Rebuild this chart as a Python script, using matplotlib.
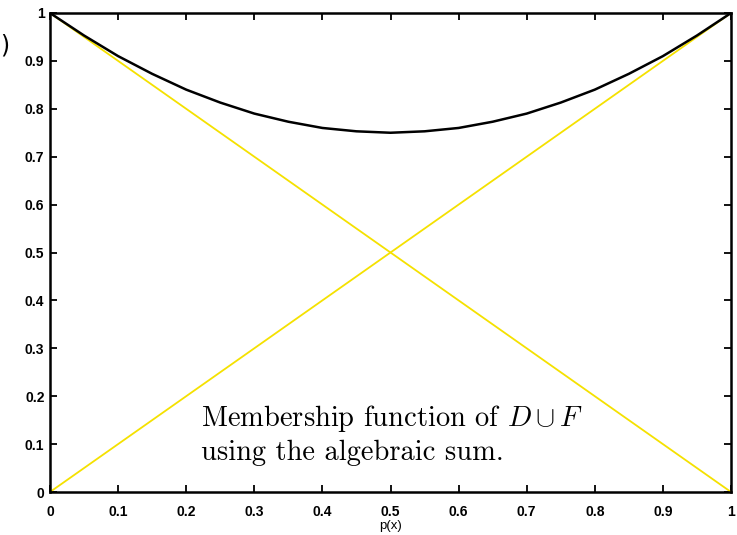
import matplotlib
matplotlib.use("Agg")
import matplotlib.pyplot as plt

# membership values read at p = 0, 0.05, ..., 1
p_vals = [0.0, 0.05, 0.1, 0.15, 0.2, 0.25, 0.3, 0.35, 0.4, 0.45, 0.5,
          0.55, 0.6, 0.65, 0.7, 0.75, 0.8, 0.85, 0.9, 0.95, 1.0]
union_vals = [1.0, 0.953, 0.91, 0.873, 0.84, 0.813, 0.79, 0.773, 0.76, 0.753, 0.75,
              0.753, 0.76, 0.773, 0.79, 0.813, 0.84, 0.873, 0.91, 0.953, 1.0]
D_x = [0.0, 1.0]
D_y = [1.0, 0.0]
F_x = [0.0, 1.0]
F_y = [0.0, 1.0]

xticks = [0, 0.1, 0.2, 0.3, 0.4, 0.5, 0.6, 0.7, 0.8, 0.9, 1]
yticks = [0, 0.1, 0.2, 0.3, 0.4, 0.5, 0.6, 0.7, 0.8, 0.9, 1]
tick_labels = ["0", "0.1", "0.2", "0.3", "0.4", "0.5", "0.6", "0.7", "0.8", "0.9", "1"]

plt.rcParams['mathtext.fontset'] = 'cm'

fig = plt.figure(figsize=(7.37, 5.35), dpi=100)
ax = fig.add_axes([50 / 737, 43 / 535, 681 / 737, 479 / 535])

ax.plot(D_x, D_y, color='#f5e100', lw=1.3)
ax.plot(F_x, F_y, color='#f5e100', lw=1.3)
ax.plot(p_vals, union_vals, color='black', lw=1.8)

ax.set_xlim(0, 1)
ax.set_ylim(0, 1)
ax.set_xticks(xticks)
ax.set_yticks(yticks)
ax.set_xticklabels(tick_labels, fontfamily='Liberation Sans', fontweight='bold', fontsize=10)
ax.set_yticklabels(tick_labels, fontfamily='Liberation Sans', fontweight='bold', fontsize=10)
ax.tick_params(direction='in', top=True, right=True, length=5, width=1.3, pad=4)
ax.tick_params(axis='x', pad=9)
for s in ax.spines.values():
    s.set_linewidth(1.8)

ax.set_xlabel("p(x)", fontfamily='Liberation Sans', fontsize=9.5, labelpad=1)

ax.text(0.222, 0.12, "Membership function of $D \\cup F$\nusing the algebraic sum.",
        transform=ax.transAxes, fontfamily='cmr10', fontsize=20.5, linespacing=1.25,
        va='center', ha='left')

fig.text(0.0, 0.915, ")", fontfamily='DejaVu Sans', fontsize=17, va='center')

fig.savefig("out.png", dpi=100, facecolor='white')
